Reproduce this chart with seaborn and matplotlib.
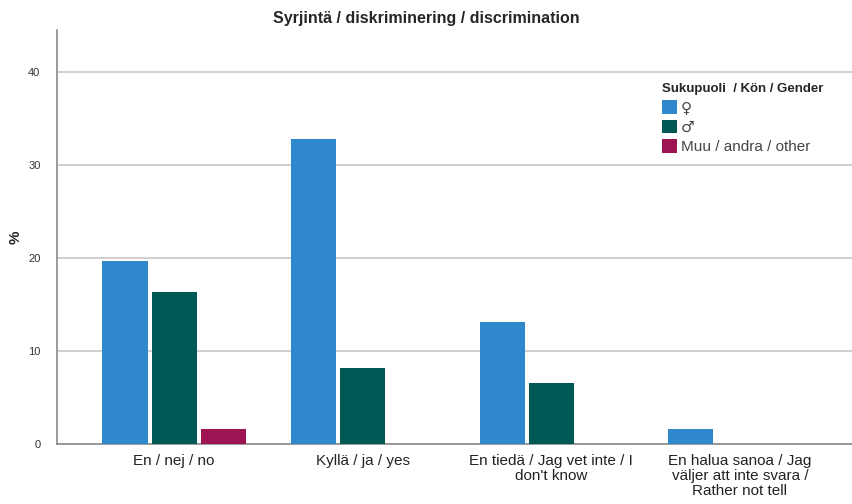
import pandas as pd
import matplotlib
matplotlib.use("Agg")
import matplotlib.pyplot as plt
import seaborn as sns

# 回答カテゴリ
categories = [
    "En / nej / no",
    "Kyllä / ja / yes",
    "En tiedä / Jag vet inte / I\ndon't know",
    "En halua sanoa / Jag\nväljer att inte svara /\nRather not tell",
]
genders = ["♀", "♂", "Muu / andra / other"]

# 各性別の割合 (%)
female = [19.7, 32.8, 13.1, 1.6]
male = [16.3, 8.2, 6.6, 0.0]
other = [1.6, 0.0, 0.0, 0.0]

colors = ["#2f88cc", "#005955", "#9c1452"]

sns.set_style("white")
plt.rcParams["font.family"] = ["Liberation Sans", "DejaVu Sans"]

rows = []
for vals, g in zip([female, male, other], genders):
    for c, v in zip(categories, vals):
        rows.append({"category": c, "gender": g, "pct": v})
df = pd.DataFrame(rows)

fig = plt.figure(figsize=(8.53, 5.04), dpi=100)
ax = fig.add_axes([0.067, 0.119, 0.933, 0.821])

sns.barplot(data=df, x="category", y="pct", hue="gender", order=categories,
            hue_order=genders, palette=colors, width=0.78, gap=0.08,
            saturation=1, linewidth=0, ax=ax, zorder=3)

ax.set_ylim(0, 44.5)
ax.set_xlim(-0.62, 3.6)
ax.set_yticks([0, 10, 20, 30, 40])
ax.grid(axis="y", color="#c8c8c8", linewidth=1.2, zorder=0)
ax.set_axisbelow(True)
for s in ["top", "right"]:
    ax.spines[s].set_visible(False)
for s in ["left", "bottom"]:
    ax.spines[s].set_color("#8a8a8a")
    ax.spines[s].set_linewidth(1.2)
ax.tick_params(axis="y", labelsize=8, colors="#333333", length=0, pad=12)
ax.tick_params(axis="x", labelsize=11, colors="#222222", length=0, pad=7)
for t in ax.get_xticklabels():
    t.set_linespacing(1.1)

ax.set_xlabel("")
ax.set_ylabel("%", fontsize=11, fontweight="bold")
ax.yaxis.set_label_coords(-0.043, 0.5)
fig.suptitle("Syrjintä / diskriminering / discrimination", fontsize=11.5,
             fontweight="bold", y=0.978)

handles, labels = ax.get_legend_handles_labels()
leg = ax.legend(handles, labels, title="Sukupuoli  / Kön / Gender", loc="upper left",
                bbox_to_anchor=(0.743, 0.905), frameon=False, fontsize=11,
                title_fontproperties={"weight": "bold", "size": 9.5},
                handlelength=1.0, handleheight=1.0, handletextpad=0.2,
                labelspacing=0.3, alignment="left", labelcolor="#444444")
for t in leg.get_texts()[:2]:
    t.set_fontfamily(["DejaVu Sans"])
    t.set_fontsize(11)

fig.savefig("out.png", dpi=100)
